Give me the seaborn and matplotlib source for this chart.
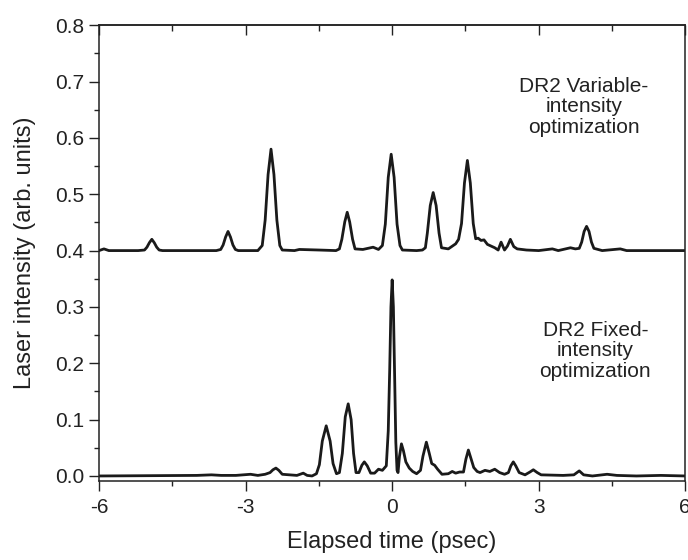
import matplotlib
matplotlib.use("Agg")
import matplotlib.pyplot as plt
from matplotlib.ticker import MultipleLocator
import seaborn as sns

# DR2 variable-intensity optimization (upper trace, offset to 0.4)
t_var = [-6.0, -5.9, -5.8, -5.2,
         -5.07, -5.02, -4.97, -4.92, -4.87, -4.82, -4.77, -4.7,
         -3.6, -3.51, -3.46, -3.41, -3.36, -3.31, -3.26, -3.21, -3.15,
         -2.75, -2.66, -2.60, -2.54, -2.48, -2.42, -2.36, -2.30, -2.25,
         -2.0, -1.9, -1.5, -1.15,
         -1.08, -1.03, -0.97, -0.92, -0.87, -0.81, -0.76,
         -0.6, -0.39, -0.28,
         -0.2, -0.14, -0.08, -0.02, 0.04, 0.10, 0.16, 0.21,
         0.5, 0.62,
         0.68, 0.72, 0.78, 0.84, 0.90, 0.96, 1.01,
         1.15, 1.3,
         1.36, 1.42, 1.48, 1.54, 1.60, 1.66, 1.71,
         1.76, 1.82, 1.88, 1.95, 2.1, 2.17, 2.23, 2.3, 2.36, 2.42, 2.49, 2.56, 2.75,
         3.0, 3.28, 3.4, 3.65, 3.75,
         3.83, 3.88, 3.93, 3.98, 4.03, 4.08, 4.13,
         4.3, 4.67, 4.8, 6.0]
i_var = [0.400, 0.403, 0.400, 0.400,
         0.401, 0.406, 0.414, 0.420, 0.414, 0.406, 0.401, 0.400,
         0.400, 0.402, 0.410, 0.424, 0.434, 0.424, 0.410, 0.402, 0.400,
         0.400, 0.409, 0.454, 0.535, 0.580, 0.535, 0.454, 0.409, 0.401,
         0.400, 0.402, 0.401, 0.400,
         0.403, 0.420, 0.451, 0.468, 0.451, 0.420, 0.403,
         0.402, 0.406, 0.402,
         0.409, 0.447, 0.530, 0.571, 0.530, 0.447, 0.409, 0.401,
         0.400, 0.401,
         0.405, 0.431, 0.480, 0.503, 0.480, 0.431, 0.405,
         0.403, 0.412,
         0.420, 0.448, 0.520, 0.560, 0.520, 0.448, 0.421,
         0.422, 0.418, 0.419, 0.411, 0.405, 0.401, 0.415, 0.401, 0.408, 0.420, 0.407, 0.403, 0.401,
         0.400, 0.403, 0.400, 0.405, 0.403,
         0.404, 0.415, 0.434, 0.443, 0.434, 0.415, 0.404,
         0.400, 0.403, 0.400, 0.400]

# DR2 fixed-intensity optimization (lower trace)
t_fix = [-6.0, -4.0, -3.7, -3.5, -3.2, -2.9, -2.75, -2.6,
         -2.5, -2.44, -2.38, -2.32, -2.25,
         -2.1, -1.95, -1.82, -1.74, -1.64,
         -1.55, -1.49, -1.43, -1.35, -1.27, -1.21, -1.14,
         -1.08, -1.02, -0.96, -0.90, -0.84, -0.79, -0.74,
         -0.68, -0.62, -0.57, -0.51, -0.44,
         -0.36, -0.28, -0.2,
         -0.12, -0.08, -0.05, -0.025, 0.0, 0.025, 0.05, 0.075, 0.10, 0.12,
         0.15, 0.19, 0.23, 0.28, 0.35, 0.42, 0.5,
         0.58, 0.63, 0.70, 0.76, 0.81, 0.87, 0.93, 1.02,
         1.15, 1.23, 1.3, 1.38,
         1.46, 1.51, 1.56, 1.61, 1.67, 1.74,
         1.8, 1.9, 2.0, 2.1, 2.2, 2.3,
         2.38, 2.43, 2.48, 2.53, 2.6,
         2.72, 2.82, 2.89, 2.97, 3.05, 3.5, 3.72, 3.83, 3.92,
         4.1, 4.4, 4.6, 5.0, 5.5, 6.0]
i_fix = [0.000, 0.001, 0.002, 0.001, 0.001, 0.003, 0.001, 0.003,
         0.006, 0.011, 0.014, 0.010, 0.003,
         0.002, 0.001, 0.005, 0.001, 0.000,
         0.004, 0.020, 0.062, 0.089, 0.062, 0.022, 0.004,
         0.006, 0.040, 0.105, 0.128, 0.100, 0.040, 0.006,
         0.006, 0.019, 0.025, 0.018, 0.005,
         0.005, 0.012, 0.010,
         0.018, 0.080, 0.190, 0.300, 0.348, 0.300, 0.180, 0.060, 0.010, 0.006,
         0.035, 0.057, 0.045, 0.025, 0.014, 0.008, 0.004,
         0.010, 0.035, 0.060, 0.040, 0.022, 0.019, 0.012, 0.003,
         0.004, 0.008, 0.005, 0.007,
         0.007, 0.030, 0.046, 0.032, 0.015, 0.008,
         0.006, 0.010, 0.008, 0.012, 0.006, 0.003,
         0.006, 0.018, 0.025, 0.018, 0.006,
         0.002, 0.007, 0.011, 0.006, 0.002, 0.001, 0.002, 0.009, 0.002,
         0.000, 0.003, 0.001, 0.000, 0.001, 0.000]

x_ticks = [-6, -3, 0, 3, 6]
y_ticks = [0.0, 0.1, 0.2, 0.3, 0.4, 0.5, 0.6, 0.7, 0.8]

sns.set_style("ticks")
plt.rcParams['font.family'] = ['Liberation Sans', 'DejaVu Sans']

fig = plt.figure(figsize=(6.88, 5.6), dpi=100)
ax = fig.add_axes([0.144, 0.141, 0.852, 0.814])

line_col = "#1a1a1a"
sns.lineplot(x=t_var, y=i_var, ax=ax, color=line_col, lw=2.0, estimator=None, sort=False)
sns.lineplot(x=t_fix, y=i_fix, ax=ax, color=line_col, lw=2.0, estimator=None, sort=False)

ax.set_xlim(-6, 6)
ax.set_ylim(-0.009, 0.8)
ax.set_xticks(x_ticks)
ax.set_xticklabels([str(v) for v in x_ticks])
ax.set_yticks(y_ticks)
ax.set_yticklabels([f"{v:.1f}" for v in y_ticks])
ax.xaxis.set_minor_locator(MultipleLocator(1.5))
ax.yaxis.set_minor_locator(MultipleLocator(0.05))

for s in ax.spines.values():
    s.set_visible(True)
    s.set_linewidth(1.1)
    s.set_color("#222222")

ax.tick_params(which="major", direction="out", length=7, width=1.0, labelsize=15,
               colors="#222222", pad=3.5)
ax.tick_params(which="minor", direction="out", length=3.5, width=1.0, colors="#222222")
ax.tick_params(axis="x", which="major", pad=5)

top = ax.secondary_xaxis("top")
top.set_xticks(x_ticks)
top.xaxis.set_minor_locator(MultipleLocator(1.5))
top.tick_params(which="major", direction="in", length=7, width=1.0, labeltop=False, colors="#222222")
top.tick_params(which="minor", direction="in", length=4.5, width=1.0, colors="#222222")
top.spines["top"].set_linewidth(1.1)

ax.set_xlabel("Elapsed time (psec)", fontsize=17, color="#222222", labelpad=10)
ax.set_ylabel("Laser intensity (arb. units)", fontsize=17, color="#222222", labelpad=14)

ax.text(3.92, 0.655, "DR2 Variable-\nintensity\noptimization", ha="center", va="center",
        fontsize=15, color="#222222", linespacing=1.1)
ax.text(4.16, 0.222, "DR2 Fixed-\nintensity\noptimization", ha="center", va="center",
        fontsize=15, color="#222222", linespacing=1.1)

fig.savefig("out.png", dpi=100)
